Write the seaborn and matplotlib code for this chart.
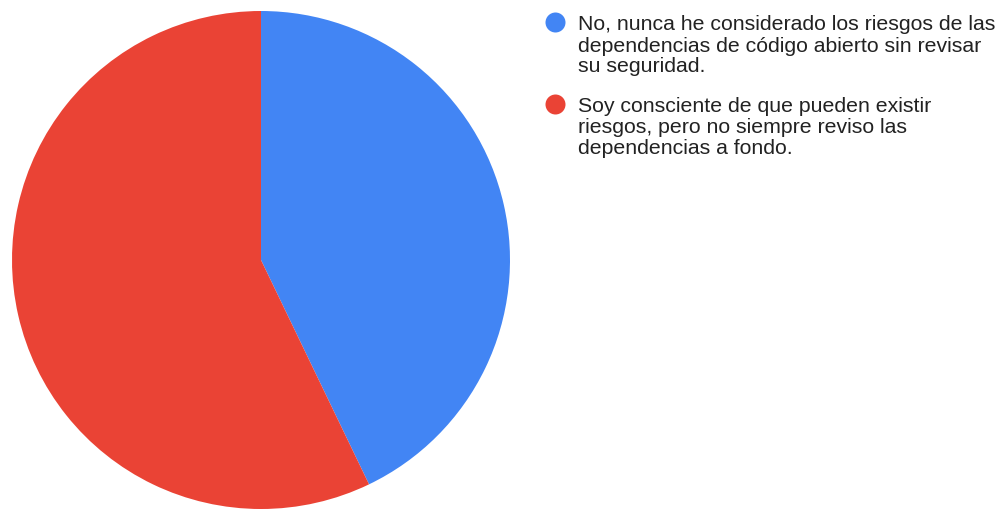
import matplotlib
matplotlib.use("Agg")
import matplotlib.pyplot as plt
import seaborn as sns

# Survey responses (each label split into its wrapped lines)
labels = [
    ["No, nunca he considerado los riesgos de las",
     "dependencias de código abierto sin revisar",
     "su seguridad."],
    ["Soy consciente de que pueden existir",
     "riesgos, pero no siempre reviso las",
     "dependencias a fondo."],
]
counts = [3, 4]
colors = ["#4285f4", "#ea4335"]

sns.set_theme(style="white")
plt.rcParams["font.family"] = ["Liberation Sans", "DejaVu Sans"]
palette = sns.color_palette(colors)

W, H = 1002, 510
fig = plt.figure(figsize=(W / 100, H / 100), dpi=100)
fig.patch.set_facecolor("white")

# Pie area
cx, cy, r = 261, 261, 249
ax = fig.add_axes([(cx - r) / W, (H - cy - r) / H, 2 * r / W, 2 * r / H])
ax.pie(counts, colors=palette, startangle=90, counterclock=False,
       radius=1.0, wedgeprops=dict(linewidth=0))
ax.set_xlim(-1, 1)
ax.set_ylim(-1, 1)
ax.set_aspect("equal")
ax.axis("off")

# Legend in pixel coordinates
lax = fig.add_axes([0, 0, 1, 1], zorder=3)
lax.set_xlim(0, W)
lax.set_ylim(H, 0)
lax.axis("off")
first_baseline = [30.5, 112.0]
line_step = 21.0
for lines, col, y0 in zip(labels, palette, first_baseline):
    lax.scatter([555], [y0 - 7.5], s=(20 * 0.72) ** 2, color=col, linewidths=0)
    for i, line in enumerate(lines):
        lax.text(578, y0 + i * line_step, line, fontsize=15.3, color="#222222",
                 va="baseline", ha="left")

fig.savefig("out.png", dpi=100, facecolor="white")
